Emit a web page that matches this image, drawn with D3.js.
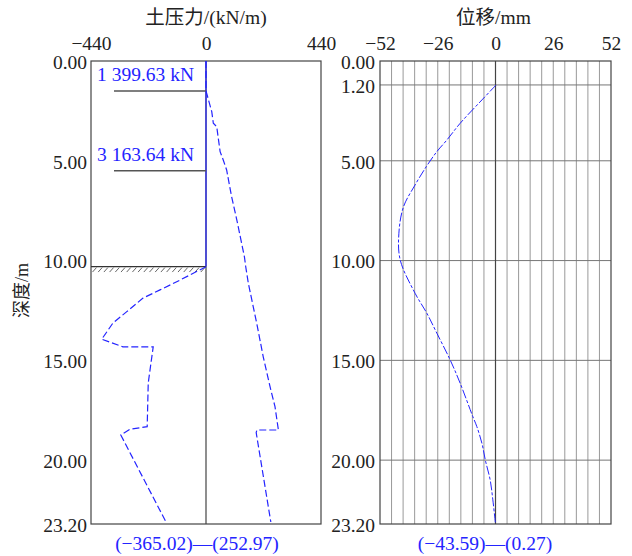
<!DOCTYPE html>
<html>
<head>
<meta charset="utf-8">
<script src="https://cdn.jsdelivr.net/npm/d3@7"></script>
<style>
  body { margin: 0; background: #fff; }
  svg text { font-family: "Liberation Serif", "Times New Roman", "Noto Sans CJK SC", serif; }
</style>
</head>
<body>
<svg id="chart" width="632" height="556"></svg>
<script>
// depth ticks for each panel
const leftDepthTicks = [0, 5, 10, 15, 20, 23.2];
const rightDepthTicks = [0, 1.2, 5, 10, 15, 20, 23.2];
const pressureTicks = [-440, 0, 440];
const dispTicks = [-52, -26, 0, 26, 52];

// active earth pressure (right of zero), kN/m
const activeDepth = [0, 1.5, 2.54, 3.12, 3.29, 4.54, 4.96, 5.46, 6.8, 7.97, 9.81, 10.31, 11.14, 13.14, 14.82, 16.32, 17.32, 18.49, 18.49, 18.62, 23.1];
const activeP = [0, 0, 22, 28, 41, 54, 66, 79, 98, 118, 147, 152, 162, 194, 219, 245, 264, 277, 195, 192, 248];

// passive earth pressure (left of zero), kN/m
const passiveDepth = [10.31, 11.06, 11.47, 11.88, 12.56, 13.13, 13.94, 14.32, 14.32, 16.13, 18.32, 18.45, 18.74, 23.05];
const passiveP = [0, -112, -176, -241, -303, -356, -399, -318, -202, -221, -225, -291, -326, -155];

// horizontal displacement, mm
const dispDepth = [1.2, 1.95, 3.12, 3.96, 4.54, 5.3, 6.21, 7.3, 8.63, 9.97, 11.64, 12.64, 13.64, 14.98, 16.15, 17.82, 18.32, 19.16, 19.99, 20.99, 21.99, 23.2];
const dispVal = [0.27, -6.1, -15.9, -21.9, -26.4, -31.2, -36.2, -41.4, -43.5, -42.9, -36.2, -30.9, -26.4, -20.4, -15.9, -10.2, -8.4, -6.1, -4.6, -2.4, -1.2, 0];

// support forces
const supportDepth = [1.5, 5.5];
const supportLabel = ["1 399.63 kN", "3 163.64 kN"];
const excavationDepth = 10.3;

const pressureRange = "(\u2212365.02)\u2014(252.97)";
const dispRange = "(\u221243.59)\u2014(0.27)";

let svg = d3.select("#chart");
const fs = 19.5;
const frameColor = "#444";
const blue = "#2424ff";

let y = d3.scaleLinear().domain([0, 23.2]).range([61, 524]);
let xP = d3.scaleLinear().domain([-440, 440]).range([91, 321]);
let xD = d3.scaleLinear().domain([-52, 52]).range([380, 611]);

function fmtDepth(d) { return d.toFixed(2); }
function fmtNum(d) { return d < 0 ? "\u2212" + Math.abs(d) : d + ""; }

function styleAxis(g) {
    g.select(".domain").remove();
    g.selectAll(".tick line").remove();
    g.selectAll(".tick text").attr("fill", "#222").style("font-size", fs + "px");
}

// ---------- left panel: earth pressure ----------
svg.append("g")
    .attr("transform", `translate(0,50)`)
    .call(d3.axisTop(xP).tickValues(pressureTicks).tickFormat(fmtNum).tickSize(0).tickPadding(0))
    .call(styleAxis);

svg.append("g")
    .attr("transform", `translate(${xP.range()[0] - 4},1)`)
    .call(d3.axisLeft(y).tickValues(leftDepthTicks).tickFormat(fmtDepth).tickSize(0).tickPadding(0))
    .call(styleAxis);

svg.append("text")
    .attr("x", xP(0)).attr("y", 24)
    .attr("text-anchor", "middle")
    .attr("fill", "#222")
    .style("font-size", fs + "px")
    .text("土压力/(kN/m)");

svg.append("text")
    .attr("transform", `translate(28,${y(11.5)}) rotate(-90)`)
    .attr("text-anchor", "middle")
    .attr("fill", "#222")
    .style("font-size", "18px")
    .text("深度/m");

// frame
svg.append("rect")
    .attr("x", xP.range()[0]).attr("y", y(0))
    .attr("width", xP.range()[1] - xP.range()[0])
    .attr("height", y(23.2) - y(0))
    .attr("fill", "none").attr("stroke", frameColor).attr("stroke-width", 1.2);

svg.append("line")
    .attr("x1", xP(0)).attr("x2", xP(0))
    .attr("y1", y(0)).attr("y2", y(23.2))
    .attr("stroke", frameColor).attr("stroke-width", 1.2);

// blue zero pressure above excavation level
svg.append("line")
    .attr("x1", xP(0)).attr("x2", xP(0))
    .attr("y1", y(0)).attr("y2", y(excavationDepth))
    .attr("stroke", blue).attr("stroke-width", 1.2);

// excavation level with hatching
svg.append("line")
    .attr("x1", xP(-440)).attr("x2", xP(0))
    .attr("y1", y(excavationDepth)).attr("y2", y(excavationDepth))
    .attr("stroke", "#333").attr("stroke-width", 1.2);

svg.append("g").selectAll("line")
    .data(d3.range(xP(-440) + 1.5, xP(0) - 3, 5.7))
    .join("line")
    .attr("x1", d => d).attr("x2", d => d + 4)
    .attr("y1", y(excavationDepth) + 5.5).attr("y2", y(excavationDepth) + 1)
    .attr("stroke", "#666").attr("stroke-width", 1);

// supports
supportDepth.forEach(function (d, i) {
    svg.append("line")
        .attr("x1", 114).attr("x2", xP(0))
        .attr("y1", y(d)).attr("y2", y(d))
        .attr("stroke", "#555").attr("stroke-width", 1.5);
    svg.append("text")
        .attr("x", 97).attr("y", y(d) - 10)
        .attr("fill", blue)
        .style("font-size", fs + "px")
        .text(supportLabel[i]);
});

let pressureLine = d3.line().x(d => xP(d[1])).y(d => y(d[0]));

svg.append("path")
    .datum(d3.zip(activeDepth, activeP))
    .attr("d", pressureLine)
    .attr("fill", "none").attr("stroke", blue).attr("stroke-width", 1.2)
    .attr("stroke-dasharray", "7,3");

svg.append("path")
    .datum(d3.zip(passiveDepth, passiveP))
    .attr("d", pressureLine)
    .attr("fill", "none").attr("stroke", blue).attr("stroke-width", 1.2)
    .attr("stroke-dasharray", "7,3");

svg.append("text")
    .attr("x", 197).attr("y", 550)
    .attr("text-anchor", "middle")
    .attr("fill", blue)
    .style("font-size", fs + "px")
    .text(pressureRange);

// ---------- right panel: displacement ----------
svg.append("g")
    .attr("transform", `translate(0,50)`)
    .call(d3.axisTop(xD).tickValues(dispTicks).tickFormat(fmtNum).tickSize(0).tickPadding(0))
    .call(styleAxis);

svg.append("g")
    .attr("transform", `translate(${xD.range()[0] - 5},1)`)
    .call(d3.axisLeft(y).tickValues(rightDepthTicks).tickFormat(fmtDepth).tickSize(0).tickPadding(0))
    .call(styleAxis);

svg.append("text")
    .attr("x", xD(0) - 2).attr("y", 24)
    .attr("text-anchor", "middle")
    .attr("fill", "#222")
    .style("font-size", fs + "px")
    .text("位移/mm");

// vertical grid every 5.2 mm
svg.append("g").selectAll("line")
    .data(d3.range(1, 20).map(i => -52 + i * 5.2).filter(v => Math.abs(v) > 0.01))
    .join("line")
    .attr("x1", d => xD(d)).attr("x2", d => xD(d))
    .attr("y1", y(0)).attr("y2", y(23.2))
    .attr("stroke", "#999").attr("stroke-width", 1);

// horizontal grid at depth ticks
svg.append("g").selectAll("line")
    .data(rightDepthTicks.slice(1, -1))
    .join("line")
    .attr("x1", xD(-52)).attr("x2", xD(52))
    .attr("y1", d => y(d)).attr("y2", d => y(d))
    .attr("stroke", "#777").attr("stroke-width", 1);

svg.append("line")
    .attr("x1", xD(0)).attr("x2", xD(0))
    .attr("y1", y(0)).attr("y2", y(23.2))
    .attr("stroke", frameColor).attr("stroke-width", 1.2);

svg.append("rect")
    .attr("x", xD.range()[0]).attr("y", y(0))
    .attr("width", xD.range()[1] - xD.range()[0])
    .attr("height", y(23.2) - y(0))
    .attr("fill", "none").attr("stroke", frameColor).attr("stroke-width", 1.2);

svg.append("path")
    .datum(d3.zip(dispDepth, dispVal))
    .attr("d", d3.line().x(d => xD(d[1])).y(d => y(d[0])).curve(d3.curveCatmullRom))
    .attr("fill", "none").attr("stroke", blue).attr("stroke-width", 1)
    .attr("stroke-dasharray", "9,2,3,2");

svg.append("text")
    .attr("x", 485).attr("y", 550)
    .attr("text-anchor", "middle")
    .attr("fill", blue)
    .style("font-size", fs + "px")
    .text(dispRange);
</script>
</body>
</html>
